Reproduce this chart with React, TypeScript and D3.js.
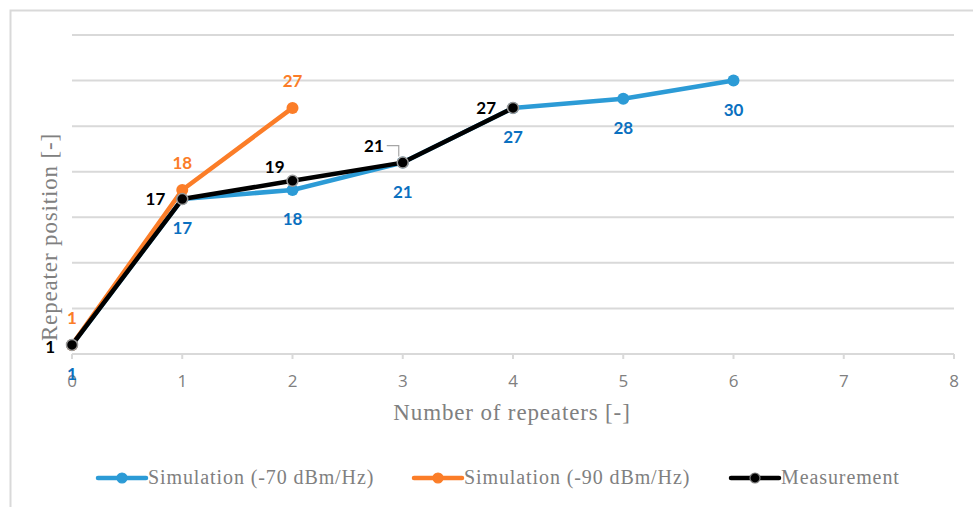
import React from "react";
import * as d3 from "d3";

// Number of repeaters (x) and repeater position (y) for each series
const simA_x = [0, 1, 2, 3, 4, 5, 6];
const simA_y = [1, 17, 18, 21, 27, 28, 30];
const simB_x = [0, 1, 2];
const simB_y = [1, 18, 27];
const meas_x = [0, 1, 2, 3, 4];
const meas_y = [1, 17, 19, 21, 27];

const xTicks = [0, 1, 2, 3, 4, 5, 6, 7, 8];
const yGrid = [0, 5, 10, 15, 20, 25, 30, 35];

const legendNames = ["Simulation (-70 dBm/Hz)", "Simulation (-90 dBm/Hz)", "Measurement"];

const BLUE = "#2c9bd6";
const BLUE_TXT = "#0a70c0";
const ORANGE = "#fb7d28";
const BLACK = "#000000";
const GRID = "#d9d9d9";
const GRAY_TXT = "#808080";

const W = 973;
const H = 507;

const x = d3.scaleLinear().domain([0, 8]).range([72, 954]);
const y = d3.scaleLinear().domain([0, 35]).range([354, 35]);

type Pt = [number, number];
const zip = (xs: number[], ys: number[]): Pt[] => xs.map((v, i) => [v, ys[i]]);

const line = d3
  .line<Pt>()
  .x((d) => x(d[0]))
  .y((d) => y(d[1]));

const labelFont = "Lato, 'Open Sans', sans-serif";
const serif = "'Liberation Serif', 'DejaVu Serif', serif";

export default function App() {
  const a = zip(simA_x, simA_y);
  const b = zip(simB_x, simB_y);
  const m = zip(meas_x, meas_y);

  // Measurement label offsets (dx, dy) relative to each point, text anchored at end
  const measOffsets: Pt[] = [
    [-17, 8],
    [-17, 6],
    [-8, -8],
    [-19, -11],
    [-17, 6],
  ];

  const legendY = 478;
  const legendItems = [
    { x0: 98, color: BLUE, stroke: BLUE, name: legendNames[0] },
    { x0: 414, color: ORANGE, stroke: ORANGE, name: legendNames[1] },
    { x0: 731, color: BLACK, stroke: "#7f7f7f", name: legendNames[2] },
  ];

  return (
    <svg
      width={W}
      height={H}
      style={{ position: "absolute", left: 0, top: 0, background: "#fff" }}
    >
      {/* chart frame */}
      <path d={`M10.5,${H} V10.5 H${W}`} fill="none" stroke={GRID} strokeWidth={2} />

      {/* gridlines */}
      {yGrid.map((g) => (
        <line
          key={g}
          x1={x(0)}
          x2={x(8)}
          y1={y(g)}
          y2={y(g)}
          stroke={GRID}
          strokeWidth={2}
        />
      ))}

      {/* x axis ticks and labels */}
      {xTicks.map((t) => (
        <g key={t}>
          <line x1={x(t)} x2={x(t)} y1={y(0)} y2={y(0) + 5} stroke={GRID} strokeWidth={2} />
          <text
            x={x(t)}
            y={387}
            textAnchor="middle"
            fontFamily="'Open Sans', sans-serif"
            fontSize={17}
            fill={GRAY_TXT}
          >
            {t}
          </text>
        </g>
      ))}

      {/* axis titles */}
      <text
        x={512}
        y={420}
        textAnchor="middle"
        fontFamily={serif}
        fontSize={23}
        letterSpacing={0.85}
        fill={GRAY_TXT}
      >
        Number of repeaters [-]
      </text>
      <text
        transform={`translate(57,237) rotate(-90)`}
        textAnchor="middle"
        fontFamily={serif}
        fontSize={23}
        letterSpacing={0.85}
        fill={GRAY_TXT}
      >
        Repeater position [-]
      </text>

      {/* series lines */}
      <path d={line(a) ?? ""} fill="none" stroke={BLUE} strokeWidth={4.5} strokeLinejoin="round" />
      {a.map((d, i) => (
        <circle key={"a" + i} cx={x(d[0])} cy={y(d[1])} r={6} fill={BLUE} />
      ))}
      <path d={line(b) ?? ""} fill="none" stroke={ORANGE} strokeWidth={4.5} strokeLinejoin="round" />
      {b.map((d, i) => (
        <circle key={"b" + i} cx={x(d[0])} cy={y(d[1])} r={6} fill={ORANGE} />
      ))}
      <path d={line(m) ?? ""} fill="none" stroke={BLACK} strokeWidth={4.5} strokeLinejoin="round" />
      {m.map((d, i) => (
        <circle
          key={"m" + i}
          cx={x(d[0])}
          cy={y(d[1])}
          r={5.5}
          fill={BLACK}
          stroke="#9a9a9a"
          strokeWidth={1.5}
        />
      ))}

      {/* data labels */}
      {a.map((d, i) => (
        <text
          key={"la" + i}
          x={x(d[0])}
          y={y(d[1]) + 35}
          textAnchor="middle"
          fontFamily={labelFont}
          fontWeight={700}
          fontSize={17}
          fill={BLUE_TXT}
        >
          {d[1]}
        </text>
      ))}
      {b.map((d, i) => (
        <text
          key={"lb" + i}
          x={x(d[0])}
          y={y(d[1]) - 21}
          textAnchor="middle"
          fontFamily={labelFont}
          fontWeight={700}
          fontSize={17}
          fill={ORANGE}
        >
          {d[1]}
        </text>
      ))}
      {m.map((d, i) => (
        <text
          key={"lm" + i}
          x={x(d[0]) + measOffsets[i][0]}
          y={y(d[1]) + measOffsets[i][1]}
          textAnchor="end"
          fontFamily={labelFont}
          fontWeight={700}
          fontSize={17}
          fill={BLACK}
        >
          {d[1]}
        </text>
      ))}
      {/* leader line for the measurement label at x = 3 */}
      <path
        d={`M${x(3) - 16},${y(21) - 17} H${x(3) - 4} V${y(21) - 6}`}
        fill="none"
        stroke="#a6a6a6"
        strokeWidth={1.2}
      />

      {/* legend */}
      {legendItems.map((it) => (
        <g key={it.name}>
          <line
            x1={it.x0}
            x2={it.x0 + 48}
            y1={legendY}
            y2={legendY}
            stroke={it.color}
            strokeWidth={4.5}
            strokeLinecap="round"
          />
          <circle
            cx={it.x0 + 24}
            cy={legendY}
            r={5}
            fill={it.color}
            stroke={it.stroke}
            strokeWidth={1.2}
          />
          <text
            x={it.x0 + 50}
            y={legendY + 6}
            fontFamily={serif}
            fontSize={20}
            letterSpacing={0.9}
            fill={GRAY_TXT}
          >
            {it.name}
          </text>
        </g>
      ))}
    </svg>
  );
}
